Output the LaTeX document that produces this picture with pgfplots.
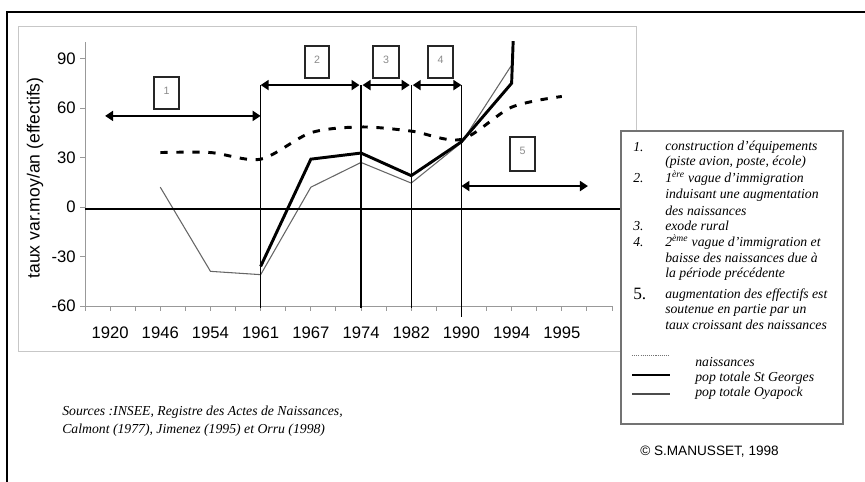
\documentclass[border=0pt]{standalone}
\usepackage{fontspec}
\setmainfont{Liberation Sans}
\newfontfamily\serif{Liberation Serif}
\usepackage{pgfplots}
\pgfplotsset{compat=1.18}
\usetikzlibrary{arrows.meta}

\begin{document}
\begin{tikzpicture}
\path[use as bounding box] (0,0) rectangle (648.75pt,361.5pt);
\begin{scope}[x=0.75pt,y=-0.75pt,shift={(0pt,361.5pt)}]
  \draw[black!22, line width=0.7pt] (18,26) rectangle (636,351);
  \draw[black, line width=1.6pt] (7,482) -- (7,12) -- (866,12);
  \node[rotate=90, font=\fontsize{13.2}{15}\selectfont] at (35,178) {taux var.moy/an (effectifs)};
\end{scope}

\begin{axis}[
  at={(63.75pt,132pt)}, anchor=south west,
  scale only axis, width=395.25pt, height=198pt,
  xmin=-0.5, xmax=10, ymin=-60, ymax=100,
  axis x line=bottom, axis y line=left,
  axis line style={black!40, -, line width=0.7pt},
  clip mode=individual,
  ytick={-60,-30,0,30,60,90},
  xtick={0,...,9},
  xticklabels={1920,1946,1954,1961,1967,1974,1982,1990,1994,1995},
  minor xtick={-0.5,0.5,...,9.5,10},
  tick align=outside,
  major tick length=3.5pt, minor tick length=3.5pt,
  tick style={black!40, line width=0.7pt},
  ticklabel style={font=\fontsize{12.5}{14}\selectfont},
  xticklabel style={yshift=-8.5pt},
  /pgf/number format/assume math mode=true,
]
% naissances
\addplot[black, line width=2.2pt, dash pattern=on 5.5pt off 6.5pt, smooth, tension=0.5] coordinates {
  (1,33) (2,33) (3,29) (4,45) (5,48.5) (6,46) (7,41) (8,60.5) (9,67)
};
% pop totale Oyapock
\addplot[black!60, line width=0.8pt] coordinates {
  (1,12) (2,-39) (3,-41) (4,12) (5,27) (6,14.5) (7,39) (8,86)
};
% pop totale St Georges
\addplot[black, line width=2.2pt] coordinates {
  (3,-36) (4,29) (5,32.7) (6,19) (7,39.5) (8,75) (9,900)
};
% zero line
\draw[black, line width=1.1pt] (axis cs:-0.5,-1.2) -- (axis cs:10.2,-1.2);
% period separators
\draw[black, line width=1.1pt] (axis cs:3,73.9) -- (axis cs:3,-61.3);
\draw[black, line width=1.1pt] (axis cs:5,73.9) -- (axis cs:5,-61.3);
\draw[black, line width=1.1pt] (axis cs:6,73.9) -- (axis cs:6,-61.3);
\draw[black, line width=1.1pt] (axis cs:7,73.9) -- (axis cs:7,-66.7);
% arrows
\tikzset{arr/.style={line width=1.4pt, {Triangle[length=6pt,width=7.5pt]}-{Triangle[length=6pt,width=7.5pt]}}}
\draw[arr] (axis cs:-0.1,55.2) -- (axis cs:3,55.2);
\draw[arr] (axis cs:3,73.9) -- (axis cs:4.97,73.9);
\draw[arr] (axis cs:5.03,73.9) -- (axis cs:5.97,73.9);
\draw[arr] (axis cs:6.03,73.9) -- (axis cs:7,73.9);
\draw[arr] (axis cs:7,12.7) -- (axis cs:9.52,12.7);
\end{axis}

\begin{scope}[x=0.75pt,y=-0.75pt,shift={(0pt,361.5pt)}]
  \tikzset{bx/.style={draw=black!85, line width=1.1pt, fill=white}}
  \tikzset{bn/.style={text=black!45, font=\fontsize{8}{9}\selectfont}}
  \draw[bx] (154,77) rectangle (179,109); \node[bn] at (166.5,91) {1};
  \draw[bx] (305,46) rectangle (329,78);  \node[bn] at (317,60) {2};
  \draw[bx] (373,46) rectangle (399,78);  \node[bn] at (386,60) {3};
  \draw[bx] (428,46) rectangle (453,78);  \node[bn] at (440.5,60) {4};
  \draw[bx] (510,137) rectangle (535,171); \node[bn] at (522.5,151) {5};
  % legend box
  \draw[black!55, line width=1pt, fill=white] (621,131) rectangle (843,424);
  \tikzset{lt/.style={anchor=west, inner sep=0pt, font=\serif\itshape\fontsize{10.3}{12}\selectfont}}
  \node[lt] at (633,147) {1.};
  \node[lt] at (665,147) {construction d’équipements};
  \node[lt] at (665,162) {(piste avion, poste, école)};
  \node[lt] at (633,178) {2.};
  \node[lt] at (665,178) {1\textsuperscript{ère} vague d’immigration};
  \node[lt] at (665,195) {induisant une augmentation};
  \node[lt] at (665,211) {des naissances};
  \node[lt] at (633,226) {3.};
  \node[lt] at (665,226) {exode rural};
  \node[lt] at (633,242) {4.};
  \node[lt] at (665,242) {2\textsuperscript{ème} vague d’immigration et};
  \node[lt] at (665,258) {baisse des naissances due à};
  \node[lt] at (665,274) {la période précédente};
  \node[anchor=west, inner sep=0pt, font=\serif\fontsize{13}{14}\selectfont] at (633,294) {5.};
  \node[lt] at (665,295) {augmentation des effectifs est};
  \node[lt] at (665,310) {soutenue en partie par un};
  \node[lt] at (665,325) {taux croissant des naissances};
  % series keys
  \draw[black!55, line width=0.6pt, dash pattern=on 0.8pt off 0.8pt] (632,355) -- (670,355);
  \draw[black, line width=2.2pt] (632,375) -- (670,375);
  \draw[black!70, line width=1pt] (632,394) -- (670,394);
  \node[lt] at (695,362) {naissances};
  \node[lt] at (695,378) {pop totale St Georges};
  \node[lt] at (695,393) {pop totale Oyapock};
  % sources
  \node[lt] at (62,412) {Sources :INSEE, Registre des Actes de Naissances,};
  \node[lt] at (62,430) {Calmont (1977), Jimenez (1995) et Orru (1998)};
  % copyright
  \node[anchor=west, inner sep=0pt, font=\fontsize{10.2}{12}\selectfont] at (640,452) {© S.MANUSSET, 1998};
\end{scope}
\end{tikzpicture}
\end{document}
